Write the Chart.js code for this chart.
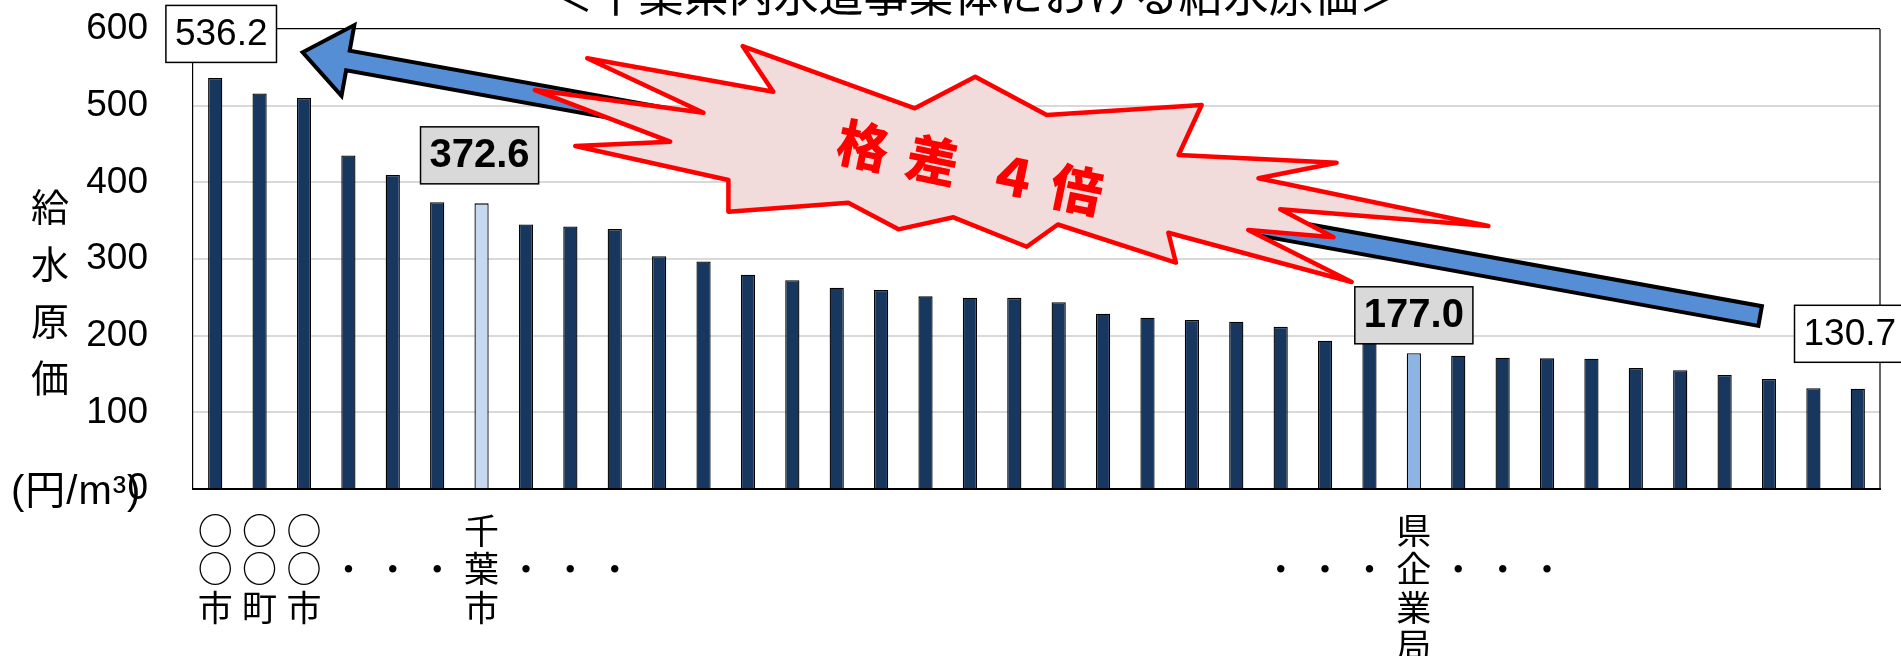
<!DOCTYPE html>
<html lang="ja">
<head>
<meta charset="utf-8">
<title>千葉県内水道事業体における給水原価</title>
<script src="https://cdn.jsdelivr.net/npm/chart.js@4.4.1/dist/chart.umd.min.js"></script>
<style>
  html, body { margin: 0; padding: 0; background: #fff; }
  .chart-wrap { position: relative; width: 1901px; height: 656px; }
</style>
</head>
<body>
<div class="chart-wrap"><canvas id="unit-cost-chart"></canvas></div>
<script>
const chartTitle = '＜千葉県内水道事業体における給水原価＞';
const yAxisTitle = '給水原価';
const yAxisUnit = '(円/m³)';
const gapText = ['格', '差', '４', '倍'];

// 事業体（○○市 … 千葉市 … 県企業局 …）
const entities = [
  '○○市', '○○町', '○○市', '・', '・', '・', '千葉市', '・', '・', '・',
  '', '', '', '', '', '', '', '', '', '',
  '', '', '', '', '・', '・', '・', '県企業局', '・', '・',
  '・', '', '', '', '', '', '', '',
];

// 給水原価（円/㎥）
const unitCosts = [
  536.2, 516.0, 510.0, 435.0, 409.5, 374.0, 372.6, 345.0, 342.5, 339.0,
  303.7, 296.7, 279.6, 272.2, 262.6, 259.6, 251.3, 249.5, 249.3, 243.5,
  228.7, 223.5, 220.4, 218.3, 211.5, 193.5, 191.0, 177.0, 173.9, 171.3,
  170.4, 170.0, 157.8, 154.8, 148.7, 143.5, 131.5, 130.7,
];

const yTicks = [0, 100, 200, 300, 400, 500, 600];

const barColor = '#17375E';
const highlightColors = { '千葉市': '#C6D9F1', '県企業局': '#8DB4E2' };

const calloutStyles = [
  { index: 0, fill: '#FFFFFF', bold: false, size: 37, dx: 6, dy: -44 },
  { index: 6, fill: '#D9D9D9', bold: true, size: 40, dx: -2, dy: -48 },
  { index: 27, fill: '#D9D9D9', bold: true, size: 40, dx: 0, dy: -38 },
  { index: 37, fill: '#FFFFFF', bold: false, size: 37, dx: -8, dy: -55 },
];

// decoration, given as [category index, value] so it follows the scales
const arrowEnds = { tail: [34.8, 225.6], tip: [1.97, 569.6] };
const burstOutline = [
  [8.38, 561.8], [12.57, 518.2], [11.88, 577.8], [15.76, 496.6], [17.12, 537.8],
  [18.73, 487.8], [22.22, 500.9], [21.70, 435.6], [25.26, 425.6], [23.50, 405.3],
  [28.68, 343.0], [23.99, 364.8], [25.19, 328.3], [23.27, 337.8], [25.60, 270.0],
  [21.47, 334.3], [21.64, 295.2], [18.98, 345.0], [18.28, 316.0], [16.63, 354.4],
  [15.39, 338.7], [14.26, 373.4], [11.56, 361.7], [11.56, 403.0], [8.11, 447.4],
  [10.25, 453.0], [7.20, 520.4], [11.00, 490.8],
];
const gapTextCenter = [17.0, 419.3];

const jpFont = "'Noto Sans CJK JP', 'Noto Sans', sans-serif";
const numFont = "'Liberation Sans', Arial, sans-serif";

function drawArrow(ctx, from, to) {
  const angle = Math.atan2(to[1] - from[1], to[0] - from[0]);
  const len = Math.hypot(to[0] - from[0], to[1] - from[1]);
  const shaft = 20;
  const head = 46;
  const headHalf = 36;
  ctx.save();
  ctx.translate(from[0], from[1]);
  ctx.rotate(angle);
  ctx.beginPath();
  ctx.moveTo(0, -shaft / 2);
  ctx.lineTo(len - head, -shaft / 2);
  ctx.lineTo(len - head, -headHalf);
  ctx.lineTo(len, 0);
  ctx.lineTo(len - head, headHalf);
  ctx.lineTo(len - head, shaft / 2);
  ctx.lineTo(0, shaft / 2);
  ctx.closePath();
  ctx.fillStyle = '#558ED5';
  ctx.fill();
  ctx.lineJoin = 'miter';
  ctx.lineWidth = 4;
  ctx.strokeStyle = '#000';
  ctx.stroke();
  ctx.restore();
}

function drawCallout(ctx, x, y, text, style) {
  ctx.save();
  ctx.font = `${style.bold ? 'bold ' : ''}${style.size}px ${numFont}`;
  const w = ctx.measureText(text).width + 18;
  const h = 57;
  ctx.fillStyle = style.fill;
  ctx.fillRect(x - w / 2, y - h / 2, w, h);
  ctx.lineWidth = 1.5;
  ctx.strokeStyle = '#000';
  ctx.strokeRect(x - w / 2, y - h / 2, w, h);
  ctx.fillStyle = '#000';
  ctx.textAlign = 'center';
  ctx.textBaseline = 'middle';
  ctx.fillText(text, x, y + 1);
  ctx.restore();
}

const decorations = {
  id: 'decorations',
  beforeDatasetsDraw(chart) {
    const { ctx, chartArea } = chart;
    ctx.save();
    ctx.strokeStyle = '#000';
    ctx.lineWidth = 1.2;
    ctx.beginPath();
    ctx.moveTo(chartArea.right, chartArea.top);
    ctx.lineTo(chartArea.right, chartArea.bottom);
    ctx.stroke();
    ctx.restore();
  },
  afterDraw(chart) {
    const { ctx, scales: { x, y } } = chart;
    const toPx = ([i, v]) => [x.getPixelForValue(i), y.getPixelForValue(v)];

    // title (runs off the top edge like the source)
    ctx.save();
    ctx.font = `45px ${jpFont}`;
    ctx.fillStyle = '#000';
    ctx.textAlign = 'center';
    ctx.textBaseline = 'middle';
    ctx.fillText(chartTitle, 976, -5);

    // y axis title, stacked vertically
    ctx.font = `38px ${jpFont}`;
    yAxisTitle.split('').forEach((ch, n) => ctx.fillText(ch, 50, 207 + n * 57));
    ctx.textAlign = 'left';
    ctx.font = `40px 'Liberation Sans', 'Noto Sans CJK JP', sans-serif`;
    ctx.letterSpacing = '1px';
    ctx.fillText(yAxisUnit, 11, 493);
    ctx.restore();

    drawArrow(ctx, toPx(arrowEnds.tail), toPx(arrowEnds.tip));

    // starburst
    ctx.save();
    ctx.beginPath();
    burstOutline.map(toPx).forEach(([px, py], n) => (n ? ctx.lineTo(px, py) : ctx.moveTo(px, py)));
    ctx.closePath();
    ctx.fillStyle = '#F2DCDB';
    ctx.fill();
    ctx.lineJoin = 'round';
    ctx.lineWidth = 4.5;
    ctx.strokeStyle = '#FF0000';
    ctx.stroke();

    const [cx, cy] = toPx(gapTextCenter);
    ctx.translate(cx, cy);
    ctx.rotate(11.6 * Math.PI / 180);
    ctx.font = `900 52px ${jpFont}`;
    ctx.fillStyle = '#FF0000';
    ctx.textAlign = 'center';
    ctx.textBaseline = 'middle';
    [-109, -38, 44, 109].forEach((off, n) => ctx.fillText(gapText[n], off, 0));
    ctx.restore();

    calloutStyles.forEach(style => {
      const value = unitCosts[style.index];
      const px = x.getPixelForValue(style.index) + style.dx;
      const py = y.getPixelForValue(value) + style.dy;
      drawCallout(ctx, px, py, value.toFixed(1), style);
    });
  },
};

new Chart(document.getElementById('unit-cost-chart').getContext('2d'), {
  type: 'bar',
  data: {
    labels: entities,
    datasets: [
      {
        data: unitCosts,
        backgroundColor: entities.map(name => highlightColors[name] || barColor),
        borderColor: '#000',
        borderWidth: 1.3,
        barPercentage: 0.32,
        categoryPercentage: 1,
      },
    ],
  },
  options: {
    responsive: true,
    maintainAspectRatio: false,
    animation: false,
    layout: { padding: { left: 0, right: 21, top: 29, bottom: 0 } },
    plugins: {
      legend: { display: false },
      tooltip: { enabled: false },
      title: { display: false },
    },
    scales: {
      x: {
        grid: { display: false, drawTicks: false },
        border: { display: true, color: '#000', width: 2 },
        ticks: {
          autoSkip: false,
          maxRotation: 0,
          minRotation: 0,
          padding: 22,
          color: '#000',
          font: { family: jpFont, size: 35, lineHeight: 1.1 },
          callback(value) {
            const label = this.getLabelForValue(value);
            if (!label) return '';
            return label === '・' ? ['', label] : label.split('');
          },
        },
        afterFit(scale) {
          scale.height = 167;
          scale.paddingLeft = 0;
          scale.paddingRight = 0;
        },
      },
      y: {
        min: yTicks[0],
        max: yTicks[yTicks.length - 1],
        grid: {
          drawTicks: false,
          color: ctx => {
            if (ctx.tick.value === yTicks[yTicks.length - 1]) return '#000';
            return ctx.tick.value === yTicks[0] ? 'rgba(0,0,0,0)' : '#D9D9D9';
          },
          lineWidth: ctx => (ctx.tick.value === yTicks[yTicks.length - 1] ? 1.2 : 2),
        },
        border: { display: true, color: '#000', width: 1.2 },
        ticks: {
          stepSize: yTicks[1] - yTicks[0],
          padding: 45,
          color: '#000',
          font: { family: numFont, size: 37 },
        },
        afterFit(scale) {
          scale.width = 193;
          scale.paddingTop = 20;
          scale.paddingBottom = 20;
        },
      },
    },
  },
  plugins: [decorations],
});
</script>
</body>
</html>
